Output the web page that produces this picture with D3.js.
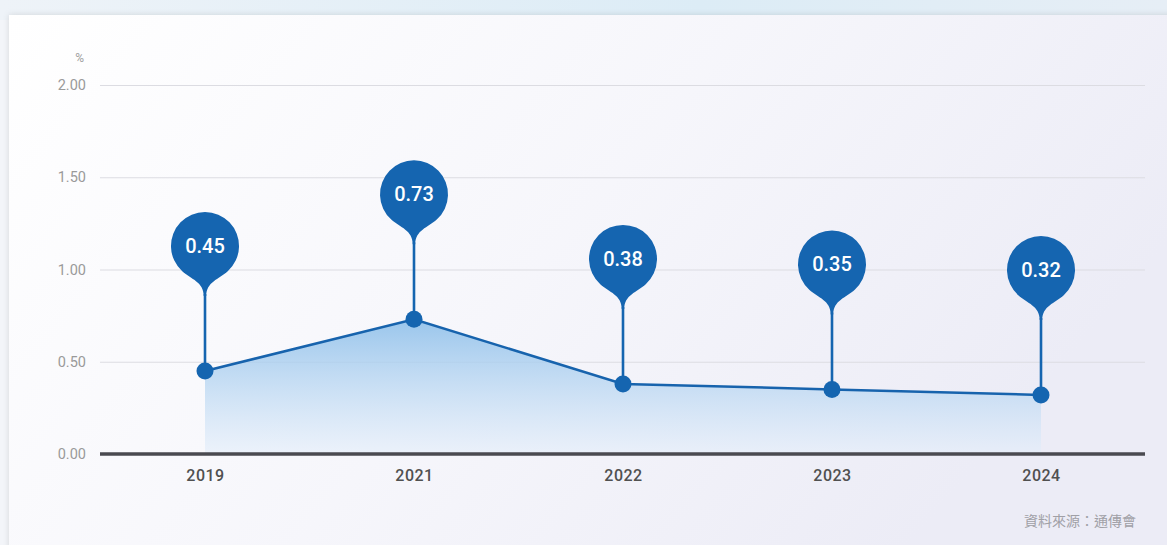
<!DOCTYPE html>
<html>
<head>
<meta charset="utf-8">
<script src="https://cdn.jsdelivr.net/npm/d3@7"></script>
<style>
  html, body { margin: 0; padding: 0; background: #ffffff; }
  svg { display: block; }
</style>
</head>
<body>
<svg id="chart" width="1167" height="545"></svg>
<script>
// Data
const years = ["2019", "2021", "2022", "2023", "2024"];
const rates = [0.45, 0.73, 0.38, 0.35, 0.32];
const yTicks = [0, 0.5, 1.0, 1.5, 2.0];
const unitLabel = "%";
const sourceNote = "資料來源：通傳會";

const W = 1167, H = 545;
const svg = d3.select("#chart");
const defs = svg.append("defs");

// Page backdrop and card
const topBand = defs.append("linearGradient").attr("id", "topBand")
  .attr("x1", 0).attr("x2", 1).attr("y1", 0).attr("y2", 0);
topBand.append("stop").attr("offset", "0%").attr("stop-color", "#eef3f8");
topBand.append("stop").attr("offset", "60%").attr("stop-color", "#dcecf6");
topBand.append("stop").attr("offset", "100%").attr("stop-color", "#e6eef6");

const cardGrad = defs.append("linearGradient").attr("id", "cardGrad")
  .attr("x1", 0).attr("x2", 1).attr("y1", 0).attr("y2", 0.4);
cardGrad.append("stop").attr("offset", "0%").attr("stop-color", "#ffffff");
cardGrad.append("stop").attr("offset", "55%").attr("stop-color", "#f6f6fb");
cardGrad.append("stop").attr("offset", "100%").attr("stop-color", "#ececf6");

const areaGrad = defs.append("linearGradient").attr("id", "areaGrad")
  .attr("x1", 0).attr("x2", 0).attr("y1", 0).attr("y2", 1);
areaGrad.append("stop").attr("offset", "0%").attr("stop-color", "#8fc0ea").attr("stop-opacity", 0.9);
areaGrad.append("stop").attr("offset", "100%").attr("stop-color", "#e4eefa").attr("stop-opacity", 0.6);

const shadow = defs.append("filter").attr("id", "cardShadow")
  .attr("x", "-5%").attr("y", "-5%").attr("width", "110%").attr("height", "110%");
shadow.append("feDropShadow").attr("dx", 0).attr("dy", 0).attr("stdDeviation", 3)
  .attr("flood-color", "#000").attr("flood-opacity", 0.12);

svg.append("rect").attr("x", 0).attr("y", 0).attr("width", W).attr("height", H).attr("fill", "#f3f5f9");
svg.append("rect").attr("x", 0).attr("y", 0).attr("width", W).attr("height", 20).attr("fill", "url(#topBand)");
svg.append("rect").attr("x", 9).attr("y", 15).attr("width", W).attr("height", H)
  .attr("fill", "url(#cardGrad)").attr("filter", "url(#cardShadow)");

// Scales
const x = d3.scalePoint().domain(years).range([205, 1041]);
const y = d3.scaleLinear().domain([0, 2]).range([454, 85]);
const gridLeft = 100, gridRight = 1145;

// Y axis: gridlines and labels
const yAxis = d3.axisLeft(y).tickValues(yTicks).tickFormat(d3.format(".2f"))
  .tickSize(-(gridRight - gridLeft)).tickPadding(14);
const gy = svg.append("g").attr("transform", `translate(${gridLeft},0)`).call(yAxis);
gy.select(".domain").remove();
gy.selectAll(".tick line").attr("stroke", "#dcdce2").attr("stroke-width", 1.2);
gy.selectAll(".tick text").attr("fill", "#9a9a9a")
  .style("font-family", "Roboto, 'Noto Sans', sans-serif").style("font-size", "14.5px");
gy.selectAll(".tick").filter(d => d === 0).select("line").remove();

svg.append("text").attr("x", 84).attr("y", 62).attr("text-anchor", "end")
  .attr("fill", "#a0a0a0").style("font-family", "Roboto, sans-serif").style("font-size", "12px")
  .text(unitLabel);

// Area and line
const pts = years.map((yr, i) => ({ year: yr, v: rates[i] }));
const area = d3.area().x(d => x(d.year)).y0(y(0)).y1(d => y(d.v));
svg.append("path").datum(pts).attr("d", area).attr("fill", "url(#areaGrad)");

const line = d3.line().x(d => x(d.year)).y(d => y(d.v));
svg.append("path").datum(pts).attr("d", line).attr("fill", "none")
  .attr("stroke", "#1763ad").attr("stroke-width", 2.5);

// Baseline and x labels
const xAxis = d3.axisBottom(x).tickSize(0).tickPadding(16);
const gx = svg.append("g").attr("transform", `translate(0,${y(0)})`).call(xAxis);
gx.select(".domain").remove();
gx.selectAll(".tick text").attr("fill", "#505050")
  .style("font-family", "Roboto, 'Noto Sans', sans-serif").style("font-size", "16px")
  .style("font-weight", "500").style("letter-spacing", "0.5px");
svg.append("line").attr("x1", gridLeft).attr("x2", gridRight)
  .attr("y1", y(0)).attr("y2", y(0)).attr("stroke", "#4a4a50").attr("stroke-width", 3.5);

// Pin markers with value labels: round head tapering smoothly into a thin stem
const pinColor = "#1565b0";
const r = 34, tipDrop = 50, headOffset = 125, stemHalf = 1.3;
function pinPath(cx, cy) {
  const a = 42 * Math.PI / 180;
  const sx = r * Math.sin(a), sy = r * Math.cos(a);
  const t = 12;
  const c1x = sx - t * Math.cos(a), c1y = sy + t * Math.sin(a);
  return `M${cx - stemHalf},${cy + tipDrop}` +
    `C${cx - stemHalf},${cy + tipDrop - 14} ${cx - c1x},${cy + c1y} ${cx - sx},${cy + sy}` +
    `A${r},${r} 0 1 1 ${cx + sx},${cy + sy}` +
    `C${cx + c1x},${cy + c1y} ${cx + stemHalf},${cy + tipDrop - 14} ${cx + stemHalf},${cy + tipDrop}Z`;
}

const pins = svg.append("g").selectAll("g").data(pts).join("g");
pins.append("line")
  .attr("x1", d => x(d.year)).attr("x2", d => x(d.year))
  .attr("y1", d => y(d.v) - headOffset + tipDrop - 2).attr("y2", d => y(d.v))
  .attr("stroke", pinColor).attr("stroke-width", stemHalf * 2);
pins.append("path").attr("d", d => pinPath(x(d.year), y(d.v) - headOffset)).attr("fill", pinColor);
pins.append("circle").attr("cx", d => x(d.year)).attr("cy", d => y(d.v)).attr("r", 8.5).attr("fill", pinColor);
pins.append("text")
  .attr("x", d => x(d.year)).attr("y", d => y(d.v) - headOffset + 7)
  .attr("text-anchor", "middle").attr("fill", "#ffffff")
  .style("font-family", "Roboto, 'Noto Sans', sans-serif").style("font-size", "20px").style("font-weight", "500")
  .text(d => d3.format(".2f")(d.v));

// Source note
svg.append("text").attr("x", 1136).attr("y", 526).attr("text-anchor", "end")
  .attr("fill", "#a0a0a6").style("font-family", "'Noto Sans CJK TC', sans-serif").style("font-size", "14px")
  .text(sourceNote);
</script>
</body>
</html>
